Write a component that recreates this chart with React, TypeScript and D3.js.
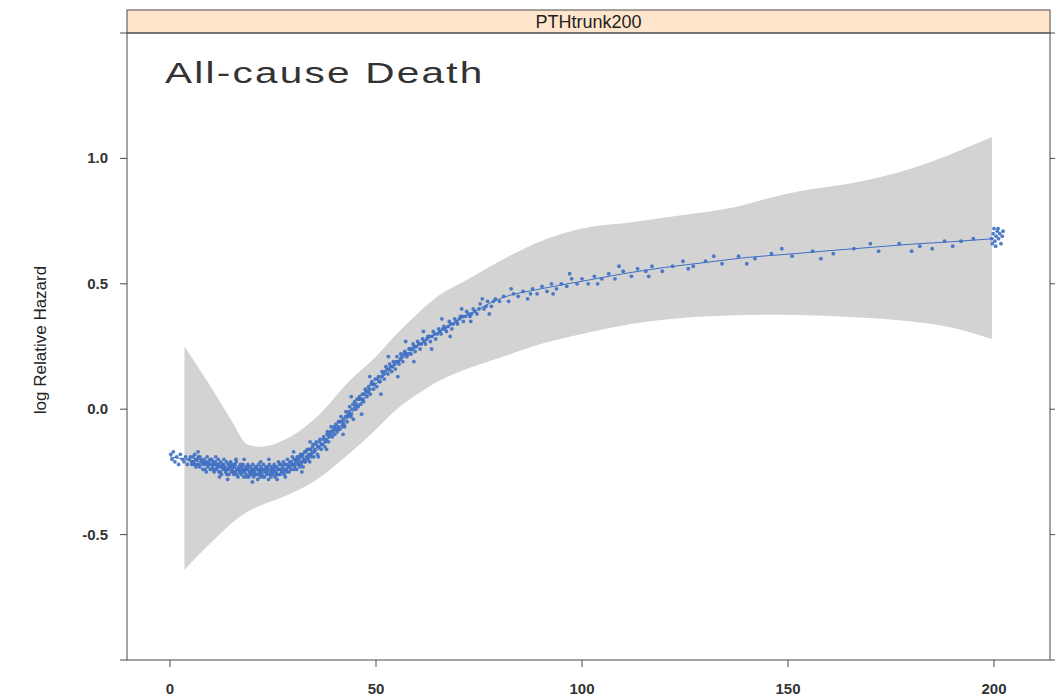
import * as d3 from 'd3';
import { useEffect, useRef } from 'react';

const panelLabel = 'PTHtrunk200'
const chartTitle = 'All-cause Death'
const yLabel = 'log Relative Hazard'

const xTicks = [0, 50, 100, 150, 200]
const xTickLabels = ['0', '50', '100', '150', '200']
const yTicks = [-0.5, 0.0, 0.5, 1.0]
const yTickLabels = ['-0.5', '0.0', '0.5', '1.0']
const yEdgeTicks = [-1.0, 1.5]

// confidence band
const bandX = [3.5, 7.3, 11.4, 15.3, 18.7, 21.8, 27.4, 35.7, 43.7, 50, 55, 60, 65, 72, 80, 90, 100, 112, 125, 137, 145, 153, 165, 180, 190, 199.5]
const bandUpper = [0.25, 0.155, 0.05, -0.056, -0.14, -0.15, -0.125, -0.03, 0.115, 0.21, 0.30, 0.38, 0.45, 0.515, 0.59, 0.67, 0.72, 0.745, 0.775, 0.805, 0.84, 0.87, 0.90, 0.96, 1.02, 1.085]
const bandLower = [-0.64, -0.575, -0.51, -0.45, -0.41, -0.385, -0.35, -0.28, -0.175, -0.08, 0.0, 0.06, 0.11, 0.16, 0.205, 0.26, 0.30, 0.34, 0.365, 0.375, 0.377, 0.376, 0.368, 0.35, 0.325, 0.28]

// fitted curve
const fitX = [0, 5, 10, 15, 20, 25, 30, 35, 40, 45, 50, 55, 60, 65, 70, 75, 80, 90, 100, 110, 120, 130, 140, 150, 160, 170, 180, 190, 200]
const fitY = [-0.19, -0.203, -0.22, -0.234, -0.243, -0.243, -0.225, -0.175, -0.09, 0.0, 0.10, 0.18, 0.25, 0.305, 0.355, 0.40, 0.44, 0.48, 0.51, 0.54, 0.565, 0.585, 0.605, 0.618, 0.632, 0.645, 0.658, 0.668, 0.68]

// observations
const points = [
  [0.2,-0.18],[0.5,-0.20],[0.8,-0.17],[1.2,-0.21],[1.6,-0.19],[2.1,-0.22],[2.5,-0.18],[3.0,-0.20],[3.4,-0.21],[3.8,-0.19],[4.2,-0.22],[4.6,-0.20],
  [5.0,-0.19],[5.3,-0.22],[5.7,-0.21],[6.0,-0.18],[6.3,-0.23],[6.6,-0.20],[7.0,-0.22],[7.3,-0.19],[7.6,-0.21],[8.0,-0.24],[8.3,-0.20],[8.6,-0.22],[9.0,-0.19],[9.2,-0.23],[9.5,-0.21],[9.8,-0.24],
  [5.2,-0.21],[5.6,-0.19],[5.9,-0.22],[6.2,-0.20],[6.5,-0.22],[6.9,-0.19],[7.2,-0.23],[7.5,-0.20],[7.9,-0.22],[8.2,-0.21],[8.5,-0.24],[8.9,-0.21],[9.4,-0.22],[9.7,-0.20],
  [8.8,-0.25],[6.8,-0.17],
  [10.1,-0.20],[10.3,-0.23],[10.5,-0.21],[10.7,-0.25],[10.9,-0.22],[11.1,-0.19],[11.3,-0.24],[11.5,-0.22],[11.7,-0.20],[11.9,-0.25],[12.1,-0.23],[12.3,-0.21],[12.5,-0.26],[12.7,-0.22],[12.9,-0.24],[13.1,-0.20],[13.3,-0.23],[13.5,-0.25],[13.7,-0.21],[13.9,-0.24],
  [14.1,-0.22],[14.3,-0.26],[14.5,-0.23],[14.7,-0.21],[14.9,-0.25],[15.1,-0.24],[15.3,-0.22],[15.5,-0.26],[15.7,-0.23],[15.9,-0.25],[16.1,-0.21],[16.3,-0.24],[16.5,-0.27],[16.7,-0.23],[16.9,-0.25],[17.1,-0.22],[17.3,-0.26],[17.5,-0.24],[17.7,-0.22],[17.9,-0.27],
  [18.1,-0.25],[18.3,-0.23],[18.5,-0.26],[18.7,-0.24],[18.9,-0.22],[19.1,-0.27],[19.3,-0.25],[19.5,-0.23],[19.7,-0.26],[19.9,-0.24],
  [10.2,-0.22],[10.6,-0.24],[11.0,-0.21],[11.4,-0.23],[11.8,-0.22],[12.2,-0.25],[12.6,-0.23],[13.0,-0.22],[13.4,-0.24],[13.8,-0.26],[14.2,-0.24],[14.6,-0.22],[15.0,-0.23],[15.4,-0.25],
  [15.8,-0.22],[16.2,-0.26],[16.6,-0.24],[17.0,-0.25],[17.4,-0.23],[17.8,-0.25],[18.2,-0.24],[18.6,-0.27],[19.0,-0.23],[19.4,-0.26],[19.8,-0.25],
  [12.0,-0.27],[16.0,-0.20],[14.0,-0.28],[18.0,-0.20],
  [20.1,-0.22],[20.3,-0.27],[20.5,-0.25],[20.7,-0.23],[20.9,-0.26],[21.1,-0.24],[21.3,-0.28],[21.5,-0.22],[21.7,-0.25],[21.9,-0.27],[22.1,-0.23],[22.3,-0.26],[22.5,-0.24],[22.7,-0.22],[22.9,-0.27],[23.1,-0.25],[23.3,-0.23],[23.5,-0.26],[23.7,-0.24],[23.9,-0.28],
  [24.1,-0.22],[24.3,-0.25],[24.5,-0.27],[24.7,-0.23],[24.9,-0.26],[25.1,-0.24],[25.3,-0.22],[25.5,-0.27],[25.7,-0.25],[25.9,-0.23],[26.1,-0.26],[26.3,-0.21],[26.5,-0.24],[26.7,-0.26],[26.9,-0.22],[27.1,-0.25],[27.3,-0.23],[27.5,-0.21],[27.7,-0.26],[27.9,-0.24],
  [28.1,-0.22],[28.3,-0.25],[28.5,-0.20],[28.7,-0.23],[28.9,-0.25],[29.1,-0.21],[29.3,-0.24],[29.5,-0.22],[29.7,-0.19],[29.9,-0.24],
  [20.2,-0.24],[20.6,-0.26],[21.0,-0.23],[21.4,-0.26],[21.8,-0.24],[22.2,-0.25],[22.6,-0.27],[23.0,-0.24],[23.4,-0.25],[23.8,-0.23],[24.2,-0.26],[24.6,-0.24],[25.0,-0.25],
  [25.4,-0.23],[25.8,-0.26],[26.2,-0.24],[26.6,-0.22],[27.0,-0.24],[27.4,-0.25],[27.8,-0.22],[28.2,-0.24],[28.6,-0.22],[29.0,-0.23],[29.4,-0.21],[29.8,-0.22],
  [20.0,-0.29],[24.0,-0.20],[28.0,-0.27],[26.0,-0.28],[22.0,-0.21],
  [30.1,-0.20],[30.3,-0.23],[30.5,-0.21],[30.7,-0.24],[30.9,-0.19],[31.1,-0.22],[31.3,-0.20],[31.5,-0.23],[31.7,-0.18],[31.9,-0.21],[32.1,-0.19],[32.3,-0.23],[32.5,-0.20],[32.7,-0.17],[32.9,-0.21],[33.1,-0.19],[33.3,-0.16],[33.5,-0.20],[33.7,-0.18],[33.9,-0.21],
  [34.1,-0.16],[34.3,-0.19],[34.5,-0.17],[34.7,-0.14],[34.9,-0.19],[35.2,-0.16],[35.5,-0.13],[35.8,-0.18],[36.1,-0.15],[36.4,-0.12],[36.7,-0.16],[37.0,-0.14],[37.3,-0.11],[37.6,-0.15],[37.9,-0.12],[38.2,-0.09],[38.5,-0.13],[38.8,-0.10],[39.1,-0.07],[39.4,-0.11],[39.7,-0.08],
  [30.2,-0.22],[30.6,-0.20],[31.0,-0.21],[31.4,-0.19],[31.8,-0.22],[32.2,-0.18],[32.6,-0.21],[33.0,-0.17],[33.4,-0.19],[33.8,-0.16],[34.2,-0.18],[34.6,-0.15],
  [35.0,-0.17],[35.4,-0.14],[35.9,-0.15],[36.3,-0.13],[36.8,-0.14],[37.2,-0.12],[37.7,-0.13],[38.1,-0.10],[38.6,-0.11],[39.0,-0.09],[39.5,-0.09],[39.9,-0.07],
  [32.0,-0.25],[36.0,-0.19],[38.0,-0.16],[34.0,-0.13],[30.0,-0.17],
  [40.0,-0.10],[40.3,-0.06],[40.6,-0.09],[40.9,-0.05],[41.2,-0.08],[41.5,-0.03],[41.8,-0.07],[42.1,-0.04],[42.4,-0.07],[42.7,-0.01],[43.0,-0.05],[43.3,-0.02],[43.6,0.01],[43.9,-0.03],[44.2,0.00],[44.5,-0.04],[44.8,0.03],
  [45.1,0.00],[45.4,0.04],[45.7,0.01],[46.0,0.05],[46.3,0.02],[46.7,0.06],[47.0,0.03],[47.4,0.08],[47.8,0.05],[48.2,0.09],[48.6,0.06],[49.0,0.11],[49.4,0.08],[49.8,0.12],
  [40.4,-0.08],[40.8,-0.07],[41.3,-0.05],[41.7,-0.05],[42.2,-0.06],[42.6,-0.03],[43.1,-0.03],[43.5,-0.01],[44.0,-0.02],[44.4,0.02],[44.9,0.01],[45.3,0.02],[45.8,0.04],[46.2,0.04],
  [46.8,0.04],[47.2,0.06],[47.6,0.07],[48.0,0.07],[48.4,0.08],[48.8,0.10],[49.2,0.10],[49.6,0.10],
  [42.0,-0.10],[44.0,0.05],[46.5,-0.02],[48.5,0.13],
  [50.2,0.09],[50.6,0.13],[51.0,0.11],[51.5,0.15],[52.0,0.12],[52.4,0.17],[52.9,0.14],[53.3,0.18],[53.8,0.15],[54.2,0.19],[54.7,0.16],[55.1,0.21],[55.6,0.18],[56.0,0.22],[56.5,0.19],[57.0,0.23],[57.5,0.21],[58.0,0.24],[58.5,0.22],[59.0,0.26],[59.5,0.23],
  [50.4,0.12],[50.8,0.11],[51.3,0.13],[51.8,0.14],[52.2,0.15],[52.7,0.16],[53.1,0.16],[53.6,0.17],[54.0,0.17],[54.5,0.18],[55.0,0.19],[55.4,0.19],[55.9,0.20],[56.3,0.21],
  [56.8,0.22],[57.3,0.22],[57.8,0.22],[58.3,0.24],[58.8,0.24],[59.3,0.25],[59.8,0.25],
  [51.2,0.06],[53.0,0.21],[55.3,0.13],[57.2,0.27],[59.2,0.19],
  [60.1,0.27],[60.7,0.24],[61.3,0.28],[62.0,0.26],[62.6,0.29],[63.2,0.27],[63.9,0.31],[64.5,0.28],[65.2,0.32],[65.8,0.30],[66.5,0.33],[67.1,0.31],[67.8,0.35],[68.4,0.32],[69.1,0.36],[69.8,0.34],
  [60.4,0.26],[61.0,0.26],[61.7,0.27],[62.3,0.28],[63.0,0.29],[63.6,0.29],[64.2,0.30],[64.9,0.30],[65.5,0.31],[66.2,0.32],[66.8,0.32],[67.5,0.33],[68.1,0.34],[68.8,0.34],[69.5,0.35],
  [61.5,0.31],[63.5,0.24],[66.0,0.36],[68.0,0.29],
  [70.5,0.37],[71.2,0.35],[72.0,0.39],[72.8,0.37],[73.6,0.40],[74.5,0.38],[75.3,0.42],[76.2,0.40],[77.1,0.43],[78.0,0.41],[79.0,0.44],[80.0,0.43],
  [70.2,0.36],[71.0,0.37],[71.7,0.37],[72.4,0.38],[73.2,0.38],[74.0,0.39],[75.0,0.40],[76.7,0.41],[78.5,0.43],
  [70.8,0.40],[73.0,0.35],[75.8,0.44],[77.5,0.38],
  [81.0,0.45],[82.2,0.43],[83.4,0.46],[84.5,0.45],[85.7,0.47],[86.8,0.44],[88.0,0.48],[89.1,0.46],[90.3,0.49],[91.5,0.47],[92.6,0.50],[93.8,0.48],[95.0,0.50],[96.3,0.49],[97.5,0.52],[98.8,0.50],[100.0,0.52],
  [82.8,0.48],[87.5,0.46],[93.0,0.46],[97.0,0.54],
  [101.5,0.50],[103.0,0.53],[104.8,0.52],[106.5,0.54],[108.0,0.52],[110.0,0.55],[112.0,0.53],[113.5,0.56],[115.5,0.55],[117.0,0.57],[119.5,0.55],[122.0,0.57],[124.5,0.59],[127.0,0.57],[130.0,0.59],
  [103.8,0.50],[109.0,0.57],[116.2,0.53],[125.8,0.56],
  [134.0,0.58],[138.0,0.61],[142.0,0.60],[146.0,0.62],[151.0,0.61],[156.0,0.63],[161.0,0.62],[166.0,0.64],[172.0,0.63],[177.0,0.66],[182.0,0.65],[185.0,0.64],[188.0,0.67],[192.0,0.67],[195.0,0.68],
  [132.0,0.61],[140.0,0.58],[148.5,0.64],[158.0,0.60],[170.0,0.66],[180.0,0.63],[190.0,0.65],
  [199.4,0.68],[199.8,0.70],[200.2,0.67],[200.5,0.69],[200.8,0.71],[201.1,0.68],[201.4,0.70],[201.7,0.66],[202.0,0.69],[200.0,0.72],[199.6,0.66],[201.0,0.72],[202.2,0.71],[200.4,0.65]
]

export default function App(){

    const svgRef = useRef(null)

    useEffect(() => {
        drawChart(svgRef.current)
    }, [svgRef])

    return (
        <svg ref={svgRef} width={1055} height={696}
             style={{position: 'absolute', left: 0, top: 0, background: '#fff'}}></svg>
    )
}

function drawChart(el){
    const left = 127, right = 1050
    const stripTop = 10, top = 33, bottom = 660
    const blue = '#3d6fc3'
    const axisCol = '#4a4a4a'
    const narrow = "'Liberation Sans Narrow', 'Liberation Sans', Arial, sans-serif"

    const svg = d3.select(el)
    svg.selectAll('*').remove()

    const x = d3.scaleLinear().domain([-10.44, 213.6]).range([left, right])
    const y = d3.scaleLinear().domain([-1, 1.5]).range([bottom, top])

    const band = bandX.map((v, i) => [v, bandLower[i], bandUpper[i]])
    const area = d3.area()
        .x(d => x(d[0]))
        .y0(d => y(d[1]))
        .y1(d => y(d[2]))
        .curve(d3.curveMonotoneX)

    svg.append('path')
        .datum(band)
        .attr('d', area)
        .attr('fill', '#d3d3d3')

    svg.append('g')
        .selectAll('circle')
        .data(points)
        .enter()
        .append('circle')
        .attr('cx', d => x(d[0]))
        .attr('cy', d => y(d[1]))
        .attr('r', 1.9)
        .attr('fill', blue)
        .attr('fill-opacity', 0.9)

    const line = d3.line()
        .x(d => x(d[0]))
        .y(d => y(d[1]))
        .curve(d3.curveMonotoneX)

    svg.append('path')
        .datum(fitX.map((v, i) => [v, fitY[i]]))
        .attr('d', line)
        .attr('fill', 'none')
        .attr('stroke', blue)
        .attr('stroke-width', 1)

    // strip
    svg.append('rect')
        .attr('x', left).attr('y', stripTop)
        .attr('width', right - left).attr('height', top - stripTop)
        .attr('fill', '#ffe5cc')
        .attr('stroke', axisCol)
    svg.append('text')
        .attr('x', (left + right) / 2).attr('y', top - 5)
        .attr('text-anchor', 'middle')
        .attr('font-family', narrow)
        .attr('font-size', 18)
        .attr('fill', '#222')
        .text(panelLabel)

    // panel box
    svg.append('rect')
        .attr('x', left).attr('y', top)
        .attr('width', right - left).attr('height', bottom - top)
        .attr('fill', 'none')
        .attr('stroke', axisCol)

    // y ticks, both sides
    const allY = yTicks.concat(yEdgeTicks)
    svg.append('g').selectAll('line').data(allY).enter().append('line')
        .attr('x1', left - 7).attr('x2', left)
        .attr('y1', d => y(d)).attr('y2', d => y(d))
        .attr('stroke', axisCol)
    svg.append('g').selectAll('line').data(allY).enter().append('line')
        .attr('x1', right).attr('x2', right + 6)
        .attr('y1', d => y(d)).attr('y2', d => y(d))
        .attr('stroke', axisCol)
    svg.append('g').selectAll('text').data(yTicks).enter().append('text')
        .attr('x', left - 19).attr('y', d => y(d) + 5)
        .attr('text-anchor', 'end')
        .attr('font-family', narrow)
        .attr('font-weight', 'bold')
        .attr('font-size', 15)
        .attr('fill', '#333')
        .text((d, i) => yTickLabels[i])

    // x ticks
    svg.append('g').selectAll('line').data(xTicks).enter().append('line')
        .attr('x1', d => x(d)).attr('x2', d => x(d))
        .attr('y1', bottom).attr('y2', bottom + 7)
        .attr('stroke', axisCol)
    svg.append('g').selectAll('text').data(xTicks).enter().append('text')
        .attr('x', d => x(d)).attr('y', bottom + 34)
        .attr('text-anchor', 'middle')
        .attr('font-family', narrow)
        .attr('font-weight', 'bold')
        .attr('font-size', 15)
        .attr('fill', '#333')
        .text((d, i) => xTickLabels[i])

    svg.append('text')
        .attr('transform', 'translate(46,340) rotate(-90)')
        .attr('text-anchor', 'middle')
        .attr('font-family', narrow)
        .attr('font-size', 17)
        .attr('fill', '#222')
        .text(yLabel)

    svg.append('g')
        .attr('transform', 'translate(165,83) scale(1.35,1)')
        .append('text')
        .attr('x', 0).attr('y', 0)
        .attr('font-family', "'Liberation Sans', Arial, sans-serif")
        .attr('font-size', 30)
        .attr('textLength', 235)
        .attr('lengthAdjust', 'spacing')
        .attr('fill', '#333')
        .text(chartTitle)
}
